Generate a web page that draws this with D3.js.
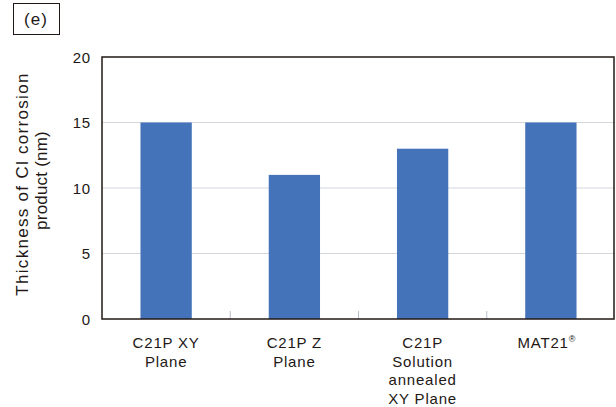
<!DOCTYPE html>
<html>
<head>
<meta charset="utf-8">
<script src="https://cdn.jsdelivr.net/npm/d3@7"></script>
<style>
  body { margin: 0; background: #fff; }
  svg text { font-family: "Liberation Sans", Arial, sans-serif; fill: #231815; }
</style>
</head>
<body>
<svg id="chart" width="616" height="407"></svg>
<script>
// chart data
const categories = ['C21P XY Plane', 'C21P Z Plane', 'C21P Solution annealed XY Plane', 'MAT21'];
const labelLines = [['C21P XY', 'Plane'], ['C21P Z', 'Plane'], ['C21P', 'Solution', 'annealed', 'XY Plane'], ['MAT21']];
const thickness = [15, 11, 13, 15];
const yTicks = [0, 5, 10, 15, 20];

const margin = { left: 102, top: 57, right: 1, bottom: 88 };
const width = 616, height = 407;
const svg = d3.select('#chart');

const x = d3.scaleBand()
    .domain(categories)
    .range([margin.left, width - margin.right])
    .paddingInner(0.6)
    .paddingOuter(0.3);

const y = d3.scaleLinear()
    .domain([0, 20])
    .range([height - margin.bottom, margin.top]);

// panel tag
svg.append('rect')
    .attr('x', 13.5).attr('y', 3.5)
    .attr('width', 46).attr('height', 31)
    .attr('fill', 'none').attr('stroke', '#231815').attr('stroke-width', 1);
svg.append('text')
    .attr('x', 36).attr('y', 25)
    .attr('text-anchor', 'middle')
    .attr('font-size', 17)
    .attr('letter-spacing', 1)
    .text('(e)');

// gridlines
svg.append('g')
    .selectAll('line')
    .data(yTicks.slice(1, -1))
    .join('line')
    .attr('x1', margin.left).attr('x2', width - margin.right)
    .attr('y1', d => y(d)).attr('y2', d => y(d))
    .attr('stroke', '#d3d6dd').attr('stroke-width', 1);

// bars
svg.append('g')
    .selectAll('rect')
    .data(thickness)
    .join('rect')
    .attr('x', (d, i) => x(categories[i]))
    .attr('y', d => y(d))
    .attr('width', x.bandwidth())
    .attr('height', d => y(0) - y(d))
    .attr('fill', '#4573b9');

// category separator ticks on the baseline
const step = x.step();
svg.append('g')
    .selectAll('line')
    .data(categories.slice(1))
    .join('line')
    .attr('x1', (d, i) => margin.left + step * (i + 1))
    .attr('x2', (d, i) => margin.left + step * (i + 1))
    .attr('y1', y(0)).attr('y2', y(0) - 8)
    .attr('stroke', '#b9bfcc').attr('stroke-width', 1);

// frame
svg.append('rect')
    .attr('x', margin.left).attr('y', margin.top)
    .attr('width', width - margin.right - margin.left - 1)
    .attr('height', y(0) - margin.top)
    .attr('fill', 'none')
    .attr('stroke', '#231815').attr('stroke-width', 1.5);

// y tick labels
svg.append('g')
    .selectAll('text')
    .data(yTicks)
    .join('text')
    .attr('x', 91)
    .attr('y', d => y(d) + 5.5)
    .attr('text-anchor', 'end')
    .attr('font-size', 15)
    .attr('letter-spacing', 0.8)
    .text(d => d);

// category labels
const catG = svg.append('g')
    .selectAll('text')
    .data(categories)
    .join('text')
    .attr('text-anchor', 'middle')
    .attr('font-size', 15)
    .attr('letter-spacing', 0.8);
catG.each(function (d, i) {
    const cx = x(d) + x.bandwidth() / 2;
    d3.select(this).selectAll('tspan')
        .data(labelLines[i])
        .join('tspan')
        .attr('x', cx)
        .attr('y', (t, j) => 348 + j * 18.5)
        .text(t => t);
});
// registered mark on the last label
const lastLabel = catG.filter((d, i) => i === categories.length - 1);
lastLabel.select('tspan').attr('x', x('MAT21') + x.bandwidth() / 2 - 4);
lastLabel.append('tspan')
    .attr('dy', -6)
    .attr('font-size', 9)
    .text('®');

// y axis title
svg.append('text')
    .attr('transform', 'translate(28,184) rotate(-90)')
    .attr('text-anchor', 'middle')
    .attr('font-size', 17)
    .attr('letter-spacing', 1.3)
    .text('Thickness of Cl corrosion');
svg.append('text')
    .attr('transform', 'translate(47,180.5) rotate(-90)')
    .attr('text-anchor', 'middle')
    .attr('font-size', 17)
    .attr('letter-spacing', 0.2)
    .text('product (nm)');
</script>
</body>
</html>
